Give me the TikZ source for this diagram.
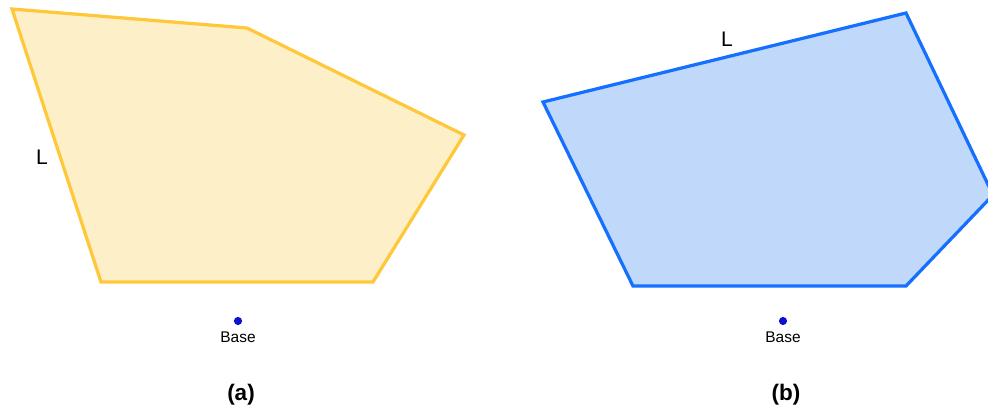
\documentclass[tikz,border=0pt]{standalone}
\usepackage{fontspec}
\setmainfont{Liberation Sans}
\usetikzlibrary{positioning}

\definecolor{goldline}{HTML}{FFC83A}
\definecolor{goldfill}{HTML}{FDF0C9}
\definecolor{blueline}{HTML}{1570FF}
\definecolor{bluefill}{HTML}{C0D9FA}
\definecolor{basedot}{HTML}{1010D0}

\begin{document}
\begin{tikzpicture}[
  x=0.025cm, y=-0.025cm,
  polya/.style={draw=goldline, fill=goldfill, line width=2.3pt, line join=miter},
  polyb/.style={draw=blueline, fill=bluefill, line width=2.3pt, line join=miter},
  dot/.style={circle, fill=basedot, inner sep=0pt, minimum size=5.8pt},
  basetext/.style={font=\fontsize{11}{13}\selectfont, inner sep=1pt},
  side/.style={font=\fontsize{15}{18}\selectfont, inner sep=0pt},
  caption/.style={font=\fontsize{16}{19}\selectfont\bfseries, inner sep=0pt}
]
  \useasboundingbox (0,0) rectangle (988,412);

  % polygon (a)
  \coordinate (a1) at (12,9);
  \coordinate (a2) at (247,28);
  \coordinate (a3) at (464,135);
  \coordinate (a4) at (373,282);
  \coordinate (a5) at (101,282);
  \draw[polya] (a1) -- (a2) -- (a3) -- (a4) -- (a5) -- cycle;
  \node[side] (la) at (42,157) {L};

  % polygon (b)
  \coordinate (b1) at (543,102);
  \coordinate (b2) at (906,13);
  \coordinate (b3) at (993,195);
  \coordinate (b4) at (906,286);
  \coordinate (b5) at (633,286);
  \draw[polyb] (b1) -- (b2) -- (b3) -- (b4) -- (b5) -- cycle;
  \node[side] (lb) at (727,39) {L};

  % base points
  \node[dot] (basea) at (238,321) {};
  \node[basetext, below=3.5pt of basea] (basealabel) {Base};
  \node[dot] (baseb) at (783,321) {};
  \node[basetext, below=3.5pt of baseb] (baseblabel) {Base};

  % captions
  \node[caption] (capa) at (241,395) {(a)};
  \node[caption] (capb) at (786,395) {(b)};
\end{tikzpicture}
\end{document}
